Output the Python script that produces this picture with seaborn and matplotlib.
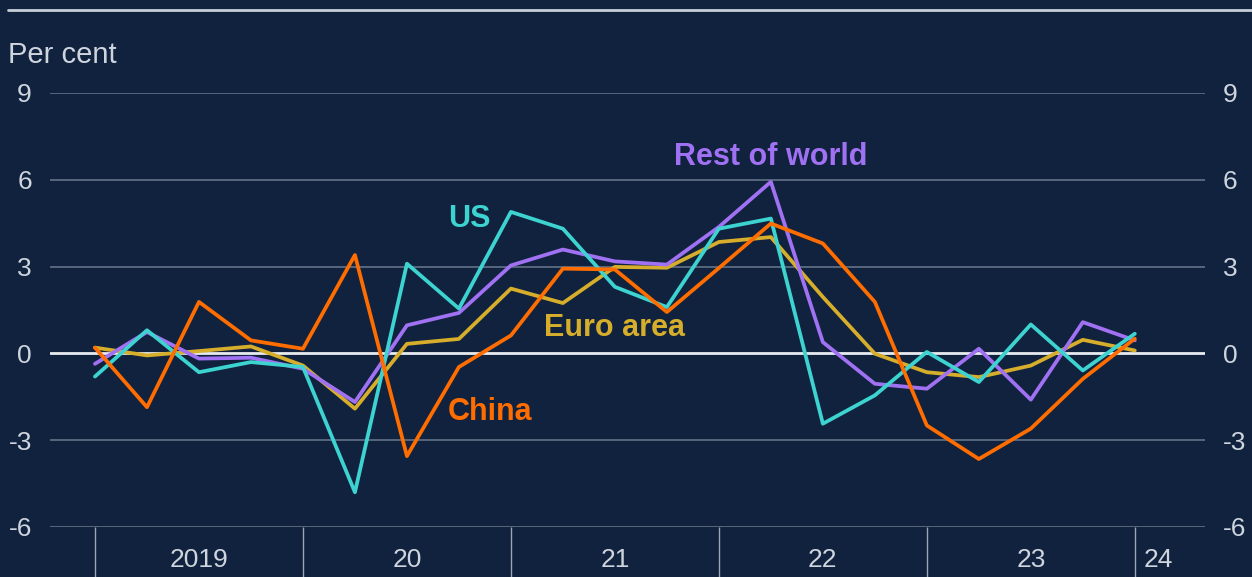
import pandas as pd
import seaborn as sns
import matplotlib.pyplot as plt
from matplotlib.lines import Line2D

# Quarterly data, 2019Q1 .. 2024Q1
quarters = pd.period_range("2019Q1", "2024Q1", freq="Q").astype(str).tolist()

china = [0.2, -1.86, 1.78, 0.45, 0.16, 3.4, -3.55, -0.47, 0.62, 2.93, 2.9,
         1.43, 2.95, 4.49, 3.8, 1.78, -2.49, -3.65, -2.6, -0.88, 0.51]
us = [-0.8, 0.8, -0.65, -0.3, -0.47, -4.8, 3.1, 1.55, 4.89, 4.31, 2.3,
      1.6, 4.31, 4.66, -2.43, -1.45, 0.05, -0.99, 1.0, -0.59, 0.68]
rest_of_world = [-0.36, 0.74, -0.18, -0.15, -0.53, -1.68, 0.97, 1.4, 3.04, 3.59, 3.18,
                 3.07, 4.37, 5.93, 0.39, -1.05, -1.22, 0.16, -1.6, 1.08, 0.45]
euro_area = [0.2, -0.07, 0.08, 0.24, -0.42, -1.91, 0.33, 0.5, 2.24, 1.74, 2.99,
             2.96, 3.85, 4.02, 1.95, -0.01, -0.65, -0.82, -0.42, 0.47, 0.1]

series_names = ["Euro area", "Rest of world", "US", "China"]
year_labels = ["2019", "20", "21", "22", "23", "24"]
y_ticks = [-6, -3, 0, 3, 6, 9]

bg = "#10223d"
text_col = "#cfd5de"
grid_col = "#55667d"
colors = {"Euro area": "#d6ae2b", "Rest of world": "#a171f3",
          "US": "#3dd3d0", "China": "#ff6d00"}

df = pd.DataFrame({
    "idx": list(range(len(quarters))) * 4,
    "value": euro_area + rest_of_world + us + china,
    "series": sum([[n] * len(quarters) for n in series_names], []),
})

sns.set_style("dark", {"axes.facecolor": bg, "figure.facecolor": bg})
plt.rcParams["font.family"] = ["Liberation Sans", "DejaVu Sans"]

fig = plt.figure(figsize=(12.52, 5.77), dpi=100)
ax = fig.add_axes([50 / 1252, 50 / 577, 1155 / 1252, 434 / 577])
ax.set_facecolor(bg)

# gridlines, zero line in white
for y in y_ticks:
    if y != 0:
        ax.axhline(y, color=grid_col, lw=1.4, zorder=0)
ax.axhline(0, color="#e8ecf0", lw=2, zorder=1)

sns.lineplot(data=df, x="idx", y="value", hue="series", palette=colors,
             hue_order=series_names, linewidth=2.7, legend=False, ax=ax, zorder=3)

ax.set_xlim(-0.865, 21.35)
ax.set_ylim(-6, 9)
for s in ax.spines.values():
    s.set_visible(False)
ax.grid(False)
ax.set_xlabel("")
ax.set_ylabel("")

# y ticks on both sides
ax.set_yticks(y_ticks)
ax.set_yticklabels([str(t) for t in y_ticks])
ax.tick_params(axis="y", length=0, labelsize=19, colors=text_col, pad=13,
               left=True, right=True, labelleft=True, labelright=True)

# year separators and labels
boundaries = [0, 4, 8, 12, 16, 20]
label_pos = [2, 6, 10, 14, 18, 20.45]
ax.set_xticks(boundaries, minor=True)
ax.set_xticks(label_pos)
ax.set_xticklabels(year_labels)
ax.tick_params(axis="x", which="minor", length=38, width=1, color="#9aa6b5",
               direction="out", bottom=True)
ax.tick_params(axis="x", which="major", length=0, labelsize=19,
               colors=text_col, pad=15)

# direct labels
label_kw = dict(fontsize=22, fontweight="bold", ha="center", va="center")
ax.text(13.0, 6.8, "Rest of world", color=colors["Rest of world"], **label_kw)
ax.text(7.2, 4.64, "US", color=colors["US"], **label_kw)
ax.text(10.0, 0.87, "Euro area", color=colors["Euro area"], **label_kw)
ax.text(7.6, -2.04, "China", color=colors["China"], **label_kw)

fig.text(8 / 1252, 1 - 55 / 577, "Per cent", color=text_col, fontsize=21,
         ha="left", va="center")
fig.add_artist(Line2D([8 / 1252, 1], [1 - 10 / 577, 1 - 10 / 577],
                      color="#c8ced8", lw=2))

fig.savefig("out.png", dpi=100, facecolor=bg)
